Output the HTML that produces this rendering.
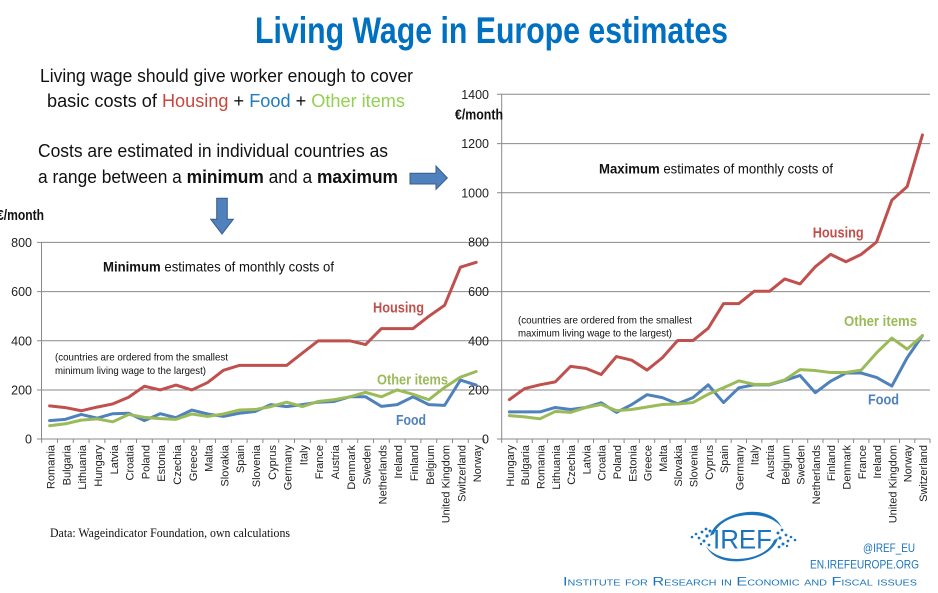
<!DOCTYPE html>
<html><head><meta charset="utf-8"><style>
html,body{margin:0;padding:0;background:#fff;}
svg{display:block;}
text{font-family:"Liberation Sans",Arial,sans-serif;}
</style></head><body>
<svg width="938" height="593" viewBox="0 0 938 593" xmlns="http://www.w3.org/2000/svg">
<rect width="938" height="593" fill="#fff"/>
<!-- Title -->
<text x="255" y="43" font-size="37" font-weight="bold" fill="#0070C0" textLength="473" lengthAdjust="spacingAndGlyphs">Living Wage in Europe estimates</text>
<!-- Intro text -->
<text x="40" y="82" font-size="18.5" fill="#111" textLength="373" lengthAdjust="spacingAndGlyphs">Living wage should give worker enough to cover</text>
<text x="47" y="107" font-size="18.5" fill="#111" textLength="358" lengthAdjust="spacingAndGlyphs">basic costs of <tspan fill="#C9463D">Housing</tspan> + <tspan fill="#1F7BC2">Food</tspan> + <tspan fill="#92D050">Other items</tspan></text>
<text x="38" y="157" font-size="18.5" fill="#111" textLength="350" lengthAdjust="spacingAndGlyphs">Costs are estimated in individual countries as</text>
<text x="38" y="183" font-size="18.5" fill="#111" textLength="360" lengthAdjust="spacingAndGlyphs">a range between a <tspan font-weight="bold">minimum</tspan> and a <tspan font-weight="bold">maximum</tspan></text>
<!-- Arrows -->
<path d="M410,173.3 L436,173.3 L436,166 L447.3,178 L436,189.3 L436,184 L410,184 Z" fill="#4F81BD" stroke="#385D8A" stroke-width="1"/>
<path d="M216.7,198.3 L227.3,198.3 L227.3,219.3 L233.3,219.3 L222,234 L210.7,219.3 L216.7,219.3 Z" fill="#4F81BD" stroke="#385D8A" stroke-width="1"/>

<!-- Gridlines -->
<g stroke="#898989" stroke-width="1" fill="none">
<line x1="37" y1="242.4" x2="930" y2="242.4"/>
<line x1="37" y1="291.6" x2="930" y2="291.6"/>
<line x1="37" y1="340.8" x2="930" y2="340.8"/>
<line x1="37" y1="390" x2="930" y2="390"/>
<line x1="497" y1="192.8" x2="930" y2="192.8"/>
<line x1="497" y1="143.6" x2="930" y2="143.6"/>
<line x1="497" y1="94.3" x2="930" y2="94.3"/>
<!-- axes -->
<line x1="41.5" y1="242.4" x2="41.5" y2="439"/>
<line x1="37" y1="439" x2="484" y2="439"/>
<line x1="501.7" y1="94.3" x2="501.7" y2="439"/>
<line x1="497" y1="439" x2="930" y2="439"/>
<!-- x ticks left -->
<path d="M41.7,439v4M57.5,439v4M73.3,439v4M89.1,439v4M104.9,439v4M120.7,439v4M136.5,439v4M152.3,439v4M168.1,439v4M183.9,439v4M199.7,439v4M215.5,439v4M231.3,439v4M247.1,439v4M262.9,439v4M278.7,439v4M294.5,439v4M310.3,439v4M326.1,439v4M341.9,439v4M357.7,439v4M373.5,439v4M389.3,439v4M405.1,439v4M420.9,439v4M436.7,439v4M452.5,439v4M468.3,439v4M484.1,439v4"/>
<!-- x ticks right -->
<path d="M501.7,439v4M517,439v4M532.3,439v4M547.6,439v4M562.9,439v4M578.2,439v4M593.5,439v4M608.8,439v4M624.1,439v4M639.4,439v4M654.7,439v4M670,439v4M685.3,439v4M700.6,439v4M715.9,439v4M731.2,439v4M746.5,439v4M761.8,439v4M777.1,439v4M792.4,439v4M807.7,439v4M823,439v4M838.3,439v4M853.6,439v4M868.9,439v4M884.2,439v4M899.5,439v4M914.8,439v4M930,439v4"/>
</g>

<!-- Y tick labels left -->
<g font-size="12.5" fill="#222" text-anchor="end">
<text x="32" y="247">800</text>
<text x="32" y="296">600</text>
<text x="32" y="345.3">400</text>
<text x="32" y="394.5">200</text>
<text x="32" y="443.5">0</text>
</g>
<!-- Y tick labels right -->
<g font-size="12.5" fill="#222" text-anchor="end">
<text x="489" y="98.8">1400</text>
<text x="489" y="148">1200</text>
<text x="489" y="197.3">1000</text>
<text x="489" y="246.5">800</text>
<text x="489" y="296">600</text>
<text x="489" y="345.3">400</text>
<text x="489" y="394.5">200</text>
<text x="489" y="443.5">0</text>
</g>

<!-- €/month labels -->
<text x="-3" y="220" font-size="15" font-weight="bold" fill="#111" textLength="47" lengthAdjust="spacingAndGlyphs">€/month</text>
<text x="455" y="119.5" font-size="15" font-weight="bold" fill="#111" textLength="48" lengthAdjust="spacingAndGlyphs">€/month</text>

<!-- chart annotations -->
<text x="103" y="271.7" font-size="14" fill="#111" textLength="231" lengthAdjust="spacingAndGlyphs"><tspan font-weight="bold">Minimum</tspan> estimates of monthly costs of</text>
<text x="599" y="173.3" font-size="14" fill="#111" textLength="234" lengthAdjust="spacingAndGlyphs"><tspan font-weight="bold">Maximum</tspan> estimates of monthly costs of</text>

<text x="55" y="360.5" font-size="10.5" fill="#111" textLength="173" lengthAdjust="spacingAndGlyphs">(countries  are ordered  from the  smallest</text>
<text x="55" y="374" font-size="10.5" fill="#111" textLength="151" lengthAdjust="spacingAndGlyphs">minimum living wage to the largest)</text>
<text x="518" y="323.5" font-size="10.5" fill="#111" textLength="174" lengthAdjust="spacingAndGlyphs">(countries  are ordered  from the  smallest</text>
<text x="518" y="336.5" font-size="10.5" fill="#111" textLength="154" lengthAdjust="spacingAndGlyphs">maximum living wage to the largest)</text>

<g font-size="15" font-weight="bold">
<text x="373" y="312.3" fill="#C0504D" textLength="51" lengthAdjust="spacingAndGlyphs">Housing</text>
<text x="812.7" y="237.3" fill="#C0504D" textLength="51" lengthAdjust="spacingAndGlyphs">Housing</text>
<text x="377" y="384.3" fill="#9BBB59" textLength="71" lengthAdjust="spacingAndGlyphs">Other items</text>
<text x="844" y="326" fill="#9BBB59" textLength="73" lengthAdjust="spacingAndGlyphs">Other items</text>
<text x="396" y="425" fill="#4F81BD" textLength="30" lengthAdjust="spacingAndGlyphs">Food</text>
<text x="868" y="404.5" fill="#4F81BD" textLength="31" lengthAdjust="spacingAndGlyphs">Food</text>
</g>

<!-- Left series -->
<g transform="translate(49.6,439) scale(15.8,-0.24538)" fill="none" stroke-width="3" stroke-linejoin="round" stroke-linecap="round">
<polyline vector-effect="non-scaling-stroke" stroke="#C0504D" points="0,135 1,128 2,115 3,130 4,143 5,170 6,215 7,200 8,220 9,200 10,230 11,280 12,300 13,300 14,300 15,300 16,350 17,400 18,400 19,400 20,385 21,450 22,450 23,450 24,500 25,545 26,700 27,720"/>
<polyline vector-effect="non-scaling-stroke" stroke="#4F81BD" points="0,75 1,80 2,100 3,85 4,103 5,105 6,75 7,103 8,87 9,118 10,102 11,92 12,105 13,112 14,140 15,132 16,140 17,150 18,153 19,172 20,172 21,133 22,140 23,172 24,140 25,137 26,240 27,220"/>
<polyline vector-effect="non-scaling-stroke" stroke="#9BBB59" points="0,54 1,62 2,77 3,82 4,70 5,100 6,88 7,83 8,80 9,102 10,92 11,102 12,118 13,120 14,132 15,150 16,132 17,153 18,160 19,172 20,190 21,172 22,200 23,182 24,160 25,210 26,252 27,275"/>
</g>
<!-- Right series -->
<g transform="translate(509.35,439) scale(15.3,-0.2462)" fill="none" stroke-width="3" stroke-linejoin="round" stroke-linecap="round">
<polyline vector-effect="non-scaling-stroke" stroke="#C0504D" points="0,160 1,205 2,220 3,232 4,295 5,287 6,262 7,335 8,320 9,280 10,330 11,400 12,400 13,450 14,550 15,550 16,600 17,600 18,650 19,630 20,700 21,750 22,720 23,750 24,800 25,970 26,1025 27,1235"/>
<polyline vector-effect="non-scaling-stroke" stroke="#4F81BD" points="0,110 1,110 2,110 3,128 4,120 5,128 6,147 7,108 8,140 9,180 10,168 11,143 12,168 13,220 14,148 15,208 16,220 17,220 18,238 19,258 20,188 21,235 22,268 23,268 24,250 25,215 26,330 27,420"/>
<polyline vector-effect="non-scaling-stroke" stroke="#9BBB59" points="0,95 1,90 2,82 3,112 4,108 5,128 6,140 7,115 8,120 9,130 10,140 11,142 12,148 13,182 14,208 15,236 16,222 17,222 18,240 19,282 20,278 21,270 22,270 23,280 24,350 25,410 26,365 27,420"/>
</g>

<!-- X labels left -->
<g font-size="11" fill="#222" text-anchor="end">
<text transform="translate(54.6,445) rotate(-90)">Romania</text>
<text transform="translate(70.4,445) rotate(-90)">Bulgaria</text>
<text transform="translate(86.2,445) rotate(-90)">Lithuania</text>
<text transform="translate(102,445) rotate(-90)">Hungary</text>
<text transform="translate(117.8,445) rotate(-90)">Latvia</text>
<text transform="translate(133.6,445) rotate(-90)">Croatia</text>
<text transform="translate(149.4,445) rotate(-90)">Poland</text>
<text transform="translate(165.2,445) rotate(-90)">Estonia</text>
<text transform="translate(181,445) rotate(-90)">Czechia</text>
<text transform="translate(196.8,445) rotate(-90)">Greece</text>
<text transform="translate(212.6,445) rotate(-90)">Malta</text>
<text transform="translate(228.4,445) rotate(-90)">Slovakia</text>
<text transform="translate(244.2,445) rotate(-90)">Spain</text>
<text transform="translate(260,445) rotate(-90)">Slovenia</text>
<text transform="translate(275.8,445) rotate(-90)">Cyprus</text>
<text transform="translate(291.6,445) rotate(-90)">Germany</text>
<text transform="translate(307.4,445) rotate(-90)">Italy</text>
<text transform="translate(323.2,445) rotate(-90)">France</text>
<text transform="translate(339,445) rotate(-90)">Austria</text>
<text transform="translate(354.8,445) rotate(-90)">Denmark</text>
<text transform="translate(370.6,445) rotate(-90)">Sweden</text>
<text transform="translate(386.4,445) rotate(-90)">Netherlands</text>
<text transform="translate(402.2,445) rotate(-90)">Ireland</text>
<text transform="translate(418,445) rotate(-90)">Finland</text>
<text transform="translate(433.8,445) rotate(-90)">Belgium</text>
<text transform="translate(449.6,445) rotate(-90)">United Kingdom</text>
<text transform="translate(465.4,445) rotate(-90)">Switzerland</text>
<text transform="translate(481.2,445) rotate(-90)">Norway</text>
</g>
<!-- X labels right -->
<g font-size="11" fill="#222" text-anchor="end">
<text transform="translate(513.9,445) rotate(-90)">Hungary</text>
<text transform="translate(529.2,445) rotate(-90)">Bulgaria</text>
<text transform="translate(544.5,445) rotate(-90)">Romania</text>
<text transform="translate(559.8,445) rotate(-90)">Lithuania</text>
<text transform="translate(575.1,445) rotate(-90)">Czechia</text>
<text transform="translate(590.4,445) rotate(-90)">Latvia</text>
<text transform="translate(605.7,445) rotate(-90)">Croatia</text>
<text transform="translate(621,445) rotate(-90)">Poland</text>
<text transform="translate(636.3,445) rotate(-90)">Estonia</text>
<text transform="translate(651.6,445) rotate(-90)">Greece</text>
<text transform="translate(666.9,445) rotate(-90)">Malta</text>
<text transform="translate(682.2,445) rotate(-90)">Slovakia</text>
<text transform="translate(697.5,445) rotate(-90)">Slovenia</text>
<text transform="translate(712.8,445) rotate(-90)">Cyprus</text>
<text transform="translate(728.1,445) rotate(-90)">Spain</text>
<text transform="translate(743.4,445) rotate(-90)">Germany</text>
<text transform="translate(758.7,445) rotate(-90)">Italy</text>
<text transform="translate(774,445) rotate(-90)">Austria</text>
<text transform="translate(789.3,445) rotate(-90)">Belgium</text>
<text transform="translate(804.6,445) rotate(-90)">Sweden</text>
<text transform="translate(819.9,445) rotate(-90)">Netherlands</text>
<text transform="translate(835.2,445) rotate(-90)">Finland</text>
<text transform="translate(850.5,445) rotate(-90)">Denmark</text>
<text transform="translate(865.8,445) rotate(-90)">France</text>
<text transform="translate(881.1,445) rotate(-90)">Ireland</text>
<text transform="translate(896.4,445) rotate(-90)">United Kingdom</text>
<text transform="translate(911.7,445) rotate(-90)">Norway</text>
<text transform="translate(927,445) rotate(-90)">Switzerland</text>
</g>

<!-- Data source -->
<text x="50" y="537" font-size="12.5" fill="#111" style="font-family:'Liberation Serif','Times New Roman',serif" textLength="240" lengthAdjust="spacingAndGlyphs">Data: Wageindicator  Foundation, own calculations</text>

<!-- IREF logo -->
<g fill="#1B75BC" stroke="none">
<path d="M710,536 C716,512 770,500 782,528 C768,508 722,512 714,534 Z"/>
<path d="M778,538 C772,562 718,572 706,546 C720,566 766,562 774,540 Z"/>
<g>
<circle cx="692" cy="537" r="1.3"/><circle cx="696" cy="534" r="1.3"/><circle cx="699" cy="538" r="1.4"/><circle cx="702" cy="532" r="1.4"/>
<circle cx="704" cy="541" r="1.5"/><circle cx="706" cy="529" r="1.4"/><circle cx="707" cy="536" r="1.6"/><circle cx="709" cy="545" r="1.4"/>
<circle cx="710" cy="531" r="1.5"/><circle cx="701" cy="544" r="1.2"/>
<circle cx="795" cy="540" r="1.3"/><circle cx="791" cy="537" r="1.3"/><circle cx="788" cy="541" r="1.4"/><circle cx="786" cy="535" r="1.4"/>
<circle cx="783" cy="544" r="1.5"/><circle cx="782" cy="530" r="1.4"/><circle cx="780" cy="538" r="1.6"/><circle cx="779" cy="547" r="1.4"/>
<circle cx="778" cy="533" r="1.5"/><circle cx="787" cy="546" r="1.2"/>
</g>
</g>
<text x="713" y="548.5" font-size="27" fill="#1B75BC" textLength="59" lengthAdjust="spacingAndGlyphs">IREF</text>
<text x="863" y="552" font-size="12" fill="#1B75BC" textLength="52" lengthAdjust="spacingAndGlyphs">@IREF_EU</text>
<text x="810" y="568.5" font-size="12" fill="#1B75BC" textLength="109" lengthAdjust="spacingAndGlyphs">EN.IREFEUROPE.ORG</text>
<text x="563" y="585.5" font-size="12" fill="#1B75BC" style="font-variant:small-caps" textLength="354" lengthAdjust="spacingAndGlyphs">Institute for Research in Economic and Fiscal issues</text>
</svg>
</body></html>
